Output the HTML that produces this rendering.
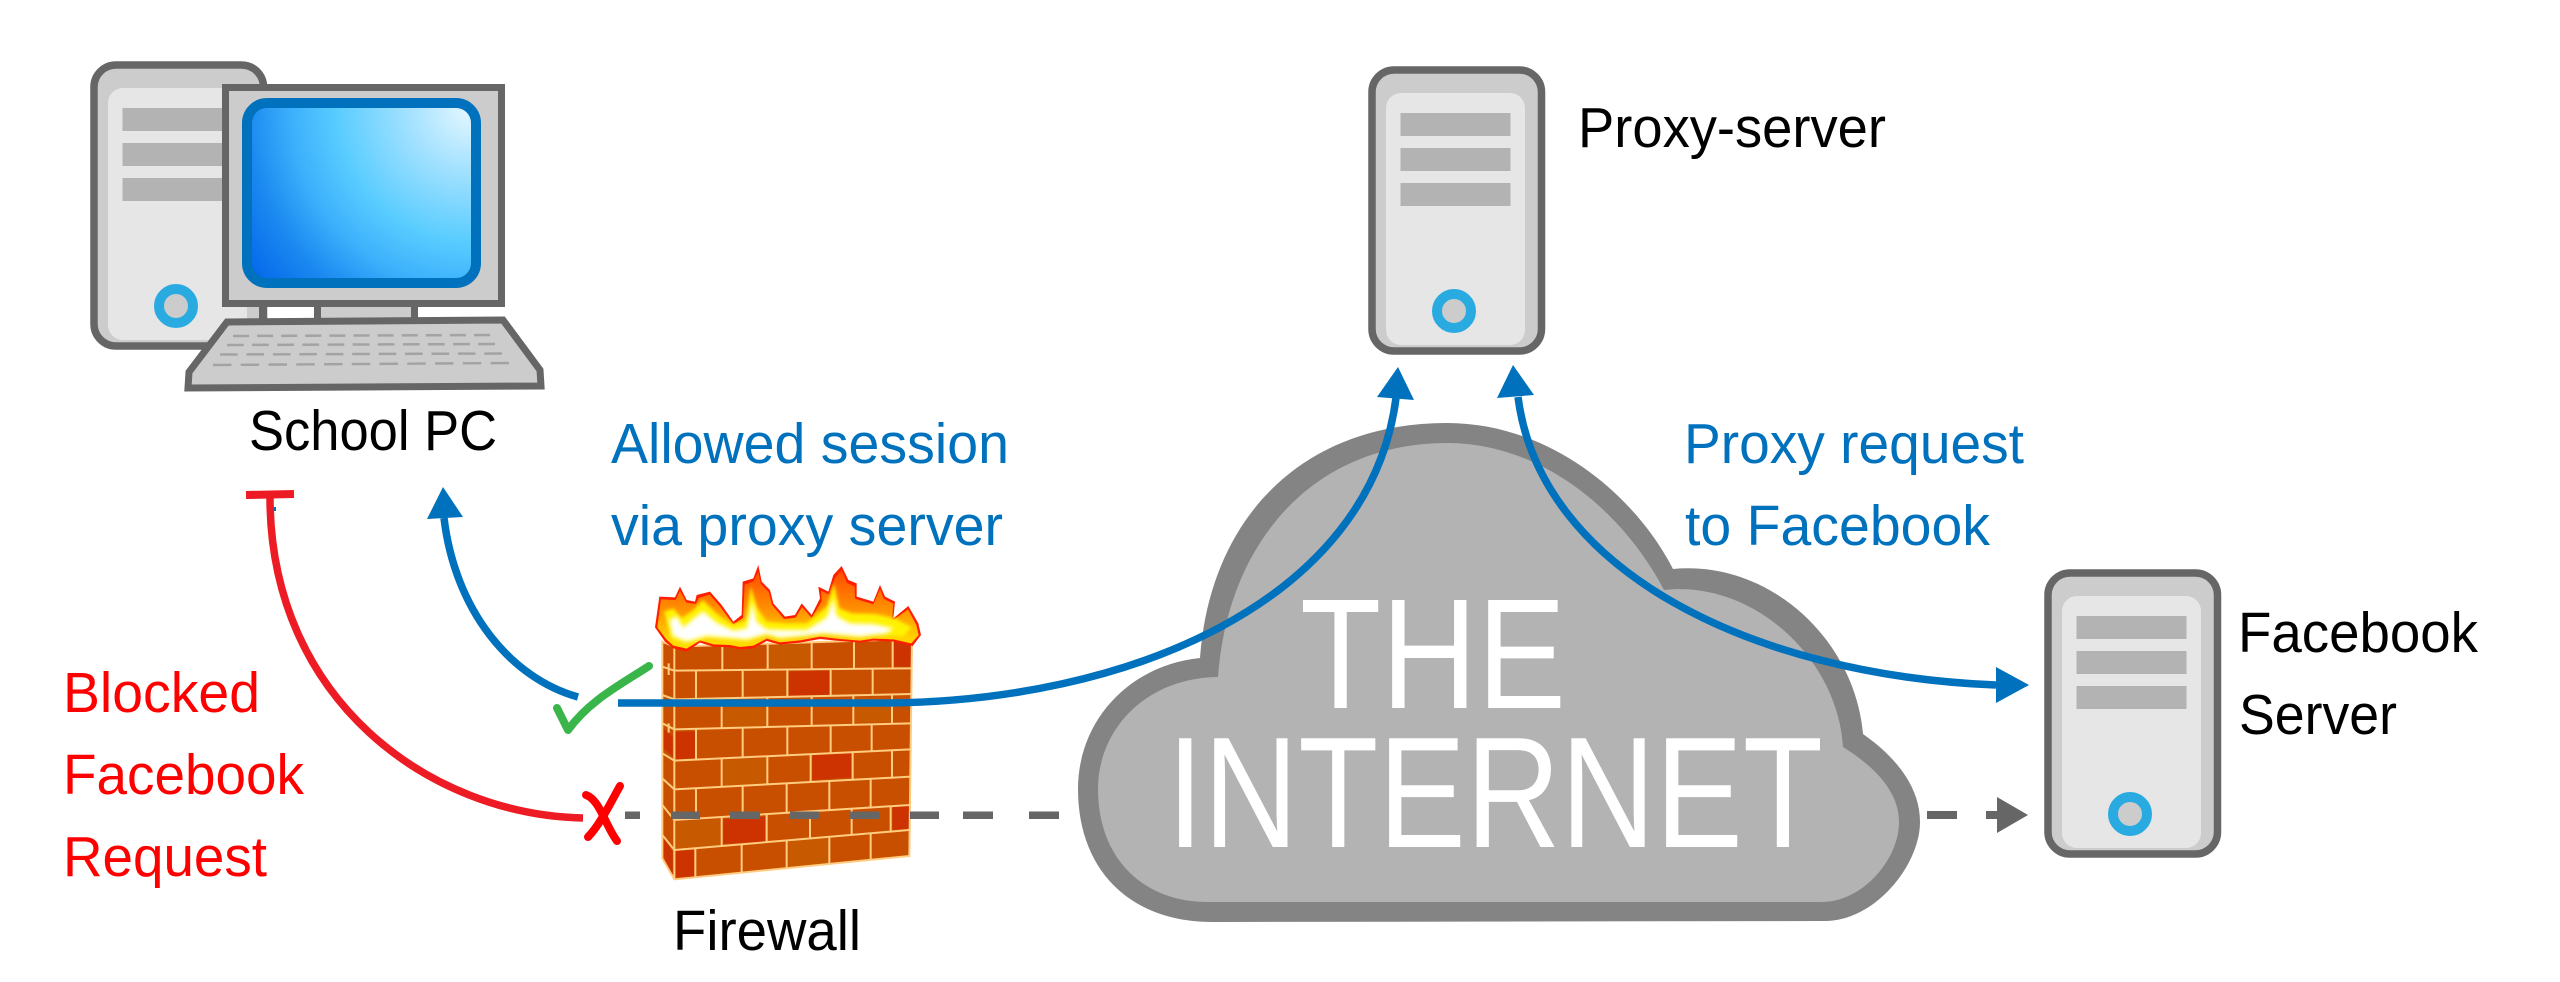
<!DOCTYPE html>
<html>
<head>
<meta charset="utf-8">
<style>
html,body{margin:0;padding:0;background:#fff;width:2560px;height:982px;overflow:hidden}
svg{display:block}
text{font-family:"Liberation Sans",sans-serif;font-size:57px}
</style>
</head>
<body>
<svg width="2560" height="982" viewBox="0 0 2560 982" xmlns="http://www.w3.org/2000/svg">
<defs>
<radialGradient id="scr" gradientUnits="userSpaceOnUse" cx="471" cy="108" r="300">
<stop offset="0" stop-color="#e6f8ff"/><stop offset=".2" stop-color="#a6e2ff"/><stop offset=".45" stop-color="#58ccff"/><stop offset=".6" stop-color="#3cb0fb"/><stop offset=".75" stop-color="#1a88f0"/><stop offset=".95" stop-color="#0062e8"/>
</radialGradient>
<linearGradient id="fire" x1="0" y1="0" x2="0" y2="1">
<stop offset="0" stop-color="#ff4a00"/><stop offset=".5" stop-color="#ff9000"/><stop offset=".85" stop-color="#ffd000"/><stop offset="1" stop-color="#ffe000"/>
</linearGradient>
<filter id="b1" x="-10%" y="-20%" width="120%" height="140%"><feGaussianBlur stdDeviation="6"/></filter>
<filter id="b2" x="-10%" y="-20%" width="120%" height="140%"><feGaussianBlur stdDeviation="5"/></filter>
<g id="tower">
<rect x="1372" y="70" width="169.5" height="281" rx="22" fill="#ccc" stroke="#666" stroke-width="7.5"/>
<rect x="1386" y="93" width="139" height="252" rx="15" fill="#e6e6e6"/>
<rect x="1400.500" y="113" width="110" height="23" fill="#b3b3b3"/>
<rect x="1400.500" y="148" width="110" height="23" fill="#b3b3b3"/>
<rect x="1400.500" y="183" width="110" height="23" fill="#b3b3b3"/>
<circle cx="1454" cy="311" r="17" fill="#ccc" stroke="#29abe2" stroke-width="10"/>
</g>
</defs>

<!-- grey dashes -->
<g fill="#666">
<rect x="625" y="811.500" width="15" height="7.500"/>
<rect x="963" y="811.500" width="30" height="7.500"/>
<rect x="1029" y="811.500" width="30" height="7.500"/>
<rect x="1927" y="811" width="30" height="8"/>
<rect x="1986" y="811" width="14" height="8"/>
<polygon points="1997,797 2028,815 1997,833"/>
</g>

<!-- School PC -->
<use href="#tower" transform="translate(-1278,-5)"/>
<rect x="247" y="307" width="14" height="12" fill="#ccc"/>
<rect x="259" y="306" width="7" height="14" fill="#666"/>
<rect x="314" y="306" width="7" height="14" fill="#666"/>
<rect x="321" y="307" width="90" height="12" fill="#ccc"/>
<rect x="411" y="306" width="7" height="14" fill="#666"/>
<rect x="225.500" y="87.500" width="276" height="216" fill="#ccc" stroke="#666" stroke-width="7"/>
<rect x="247" y="103" width="229" height="180" rx="20" fill="url(#scr)" stroke="#0071bc" stroke-width="10"/>
<polygon points="227,322 503,320 540,370 541,386 188,388 189,372" fill="#ccc" stroke="#666" stroke-width="7"/>
<g stroke="#a3a3a3" stroke-width="2.500" fill="none">
<line x1="233" y1="336" x2="490" y2="335" pathLength="32" stroke-dasharray="2 1"/>
<line x1="227" y1="345" x2="495" y2="344" pathLength="32" stroke-dasharray="2 1"/>
<line x1="220" y1="354.500" x2="502" y2="353.500" pathLength="32" stroke-dasharray="2 1"/>
<line x1="213" y1="365" x2="509" y2="363" pathLength="32" stroke-dasharray="2 1"/>
</g>

<!-- Firewall -->
<g transform="translate(540,540) scale(.33333)">
<polygon points="365,305 403,320 1118,295 1110,948 403,1018 365,955" fill="#c94f00"/>
<g fill="#cc3300">
<polygon points="1062,305 1115,305 1115,380 1062,380"/>
<polygon points="747,394 868,392 868,465 747,470"/>
<polygon points="408,575 465,575 465,655 408,658"/>
<polygon points="817,645 934,640 934,712 817,720"/>
<polygon points="1058,797 1108,795 1108,865 1058,870"/>
<polygon points="550,838 675,830 675,905 550,912"/>
<polygon points="408,932 463,930 463,1010 408,1012"/>
<polygon points="371,565 398,590 398,650 371,625"/>
<polygon points="371,890 398,935 398,1005 371,950"/>
</g>
<g fill="#c75a00">
<polygon points="686,310 810,310 810,380 686,384"/>
<polygon points="550,500 678,500 678,558 550,562"/>
<polygon points="945,475 1052,475 1052,545 945,548"/>
<polygon points="550,660 678,655 678,735 550,742"/>
<polygon points="408,845 540,838 540,915 408,925"/>
<polygon points="745,900 865,895 865,970 745,980"/>
</g>
<g fill="none" stroke="#ffcc80" stroke-width="6">
<polygon points="367,305 403,320 1116,297 1108,948 403,1018 367,955"/>
<line x1="403" y1="320" x2="403" y2="1018"/>
<path d="M403 392L1115 385M403 478L1115 462M403 568L1115 550M403 662L1112 628M403 748L1112 710M403 840L1110 795M403 930L1108 870"/>
<path d="M547 312V391M683 309V389M815 306V388M942 304V387M1058 301V386"/>
<path d="M468 391V477M608 390V473M742 389V470M872 387V467M998 386V465"/>
<path d="M545 475V564M682 472V561M815 469V558M940 466V555M1056 463V551"/>
<path d="M468 566V659M608 563V652M742 560V646M872 557V640M995 553V634"/>
<path d="M545 655V741M682 649V733M812 642V726M938 636V719M1056 631V713"/>
<path d="M468 745V836M608 737V827M740 730V819M868 723V811M992 717V803"/>
<path d="M545 831V918M680 823V907M810 814V896M935 806V885M1052 800V875"/>
<path d="M466 925V1012M605 913V998M740 902V985M868 891V972M992 881V960"/>
<path d="M367 465L403 478M367 550L403 568M367 640L403 662M367 715L403 748M367 795L403 840M367 885L403 930M367 380L403 392M386 370V405M386 550V578"/>
</g>
<polygon fill="#ff1e00" points="345,262 358,170 405,172 420,140 440,180 465,185 470,165 510,155 545,195 580,245 605,225 608,125 640,115 655,75 665,125 690,150 700,190 735,230 765,225 785,190 815,225 840,175 835,140 865,155 880,105 905,78 925,120 950,130 950,170 1000,185 1020,135 1035,170 1065,185 1060,235 1105,198 1135,250 1143,285 1118,318 1060,305 1000,302 960,308 900,303 840,297 780,308 720,314 680,303 640,325 600,328 570,322 520,320 480,308 440,335 400,325 375,305"/>
<polygon fill="url(#fire)" points="352,262 363,178 407,180 420,152 439,188 468,192 476,174 509,164 541,201 580,253 609,234 614,134 641,124 655,95 662,131 686,156 696,195 732,237 767,233 786,201 815,234 845,184 843,152 867,164 885,114 905,90 921,129 944,139 945,176 1000,193 1020,147 1031,176 1060,191 1056,243 1104,208 1129,255 1136,285 1114,310 1060,298 1000,296 960,302 900,297 840,290 780,301 720,307 680,296 640,317 600,321 570,315 520,313 480,301 440,326 400,317 378,297"/>
<polygon filter="url(#b2)" fill="#fff200" points="372,215 400,205 425,235 460,210 488,180 535,225 580,255 618,240 632,140 652,205 680,245 735,250 800,250 860,200 882,130 898,205 935,220 1005,222 1065,235 1115,262 1090,290 1000,286 960,290 850,280 780,288 720,295 680,284 620,302 560,298 500,292 440,310 395,298"/>
<polygon filter="url(#b1)" fill="#fff" points="398,288 388,240 410,228 430,262 470,228 490,214 530,248 580,272 620,265 637,185 650,245 680,268 730,270 800,270 860,232 880,175 890,228 930,250 1000,252 1060,265 1040,280 960,290 850,280 780,288 720,293 680,282 620,298 560,293 500,288 440,305"/>
</g>
<g fill="#666">
<rect x="671" y="811.500" width="29" height="7.500"/>
<rect x="730" y="811.500" width="30" height="7.500"/>
<rect x="790" y="811.500" width="29" height="7.500"/>
<rect x="850" y="811.500" width="29" height="7.500"/>
<rect x="910" y="811.500" width="29" height="7.500"/>
</g>

<!-- Cloud -->
<path fill="#848484" d="M1200 658C1210 520 1300 423 1447 423C1550 423 1635 495 1673 569C1770 560 1855 640 1863 734C1900 760 1920 790 1920 822C1920 865 1875 921 1825 921L1212 922C1130 922 1078 870 1078 789C1078 720 1130 665 1200 658Z"/>
<path fill="#b3b3b3" d="M1218 677C1228 540 1315 443 1447 443C1545 443 1625 515 1664 590C1755 580 1838 660 1843 747C1880 770 1899 795 1899 822C1899 860 1862 902 1822 902L1207 902C1145 902 1098 860 1098 789C1098 730 1145 678 1218 677Z"/>
<text x="1300" y="708" style="font-size:157px" fill="#fff" textLength="266" lengthAdjust="spacingAndGlyphs">THE</text>
<text x="1167" y="847" style="font-size:158px" fill="#fff" textLength="656" lengthAdjust="spacingAndGlyphs">INTERNET</text>

<!-- Servers -->
<use href="#tower"/>
<use href="#tower" transform="translate(676,503)"/>

<!-- Arrows -->
<g fill="none" stroke="#0071bc" stroke-width="7.500">
<path d="M618 703L880 703C1130 703 1370 600 1396 398"/>
<path d="M1518 397C1540 570 1750 675 1996 685"/>
<path d="M578 697C510 678 455 610 444 518"/>
</g>
<g fill="#0071bc">
<polygon points="1398,367 1377,397 1414,400"/>
<polygon points="1513,365 1497,398 1534,395"/>
<polygon points="2029,685 1996,667 1996,703"/>
<polygon points="443,487 427,519 463,517"/>
<rect x="272" y="507" width="4" height="4"/>
</g>
<path d="M583 818C430 815 270 700 270 497" fill="none" stroke="#ed1c24" stroke-width="7.500"/>
<line x1="246" y1="495" x2="294" y2="494" stroke="#ed1c24" stroke-width="8"/>
<g fill="none" stroke="#f00" stroke-width="8" stroke-linecap="round">
<path d="M586 795C600 800 605 825 617 841"/>
<path d="M620 786C612 800 600 825 588 837"/>
</g>
<path d="M557 708L568 730C590 700 620 685 649 666" fill="none" stroke="#39b54a" stroke-width="8" stroke-linecap="round" stroke-linejoin="round"/>

<!-- Labels -->
<text x="249" y="450" fill="#000" textLength="248" lengthAdjust="spacingAndGlyphs">School PC</text>
<text x="611" y="463" fill="#0071bc" textLength="398" lengthAdjust="spacingAndGlyphs">Allowed session</text>
<text x="611" y="545" fill="#0071bc" textLength="392" lengthAdjust="spacingAndGlyphs">via proxy server</text>
<text x="1684" y="463" fill="#0071bc" textLength="340" lengthAdjust="spacingAndGlyphs">Proxy request</text>
<text x="1685" y="545" fill="#0071bc" textLength="305" lengthAdjust="spacingAndGlyphs">to Facebook</text>
<text x="1578" y="147" fill="#000" textLength="308" lengthAdjust="spacingAndGlyphs">Proxy-server</text>
<text x="2238" y="652" fill="#000" textLength="240" lengthAdjust="spacingAndGlyphs">Facebook</text>
<text x="2239" y="734" fill="#000" textLength="158" lengthAdjust="spacingAndGlyphs">Server</text>
<text x="673" y="950" fill="#000" textLength="188" lengthAdjust="spacingAndGlyphs">Firewall</text>
<text x="63" y="712" fill="#f00" textLength="197" lengthAdjust="spacingAndGlyphs">Blocked</text>
<text x="63" y="794" fill="#f00" textLength="241" lengthAdjust="spacingAndGlyphs">Facebook</text>
<text x="63" y="876" fill="#f00" textLength="204" lengthAdjust="spacingAndGlyphs">Request</text>
</svg>
</body>
</html>
